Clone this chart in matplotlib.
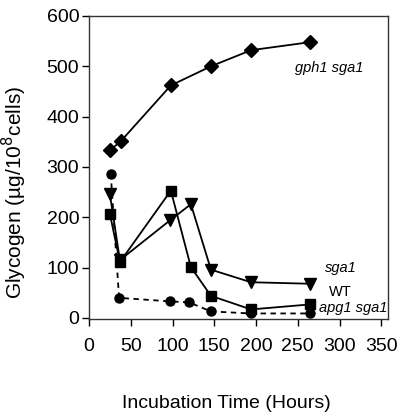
import matplotlib
matplotlib.use("Agg")
import matplotlib.pyplot as plt

plt.rcParams['font.family'] = ['Liberation Sans', 'DejaVu Sans']

t_gph = [25, 38, 98, 146, 194, 265]
gph1_sga1 = [333, 351, 462, 500, 532, 548]

t_wt = [25, 37, 98, 122, 146, 194, 265]
wt = [207, 111, 253, 101, 44, 17, 27]

t_sga = [25, 37, 97, 122, 146, 194, 265]
sga1 = [246, 115, 194, 226, 96, 71, 68]

t_apg = [26, 36, 97, 120, 146, 194, 265]
apg1_sga1 = [287, 40, 33, 31, 13, 9, 9]

xticks = [0, 50, 100, 150, 200, 250, 300, 350]
yticks = [0, 100, 200, 300, 400, 500, 600]

fig = plt.figure(figsize=(4.0, 4.2), dpi=100)
ax = fig.add_axes([0.2225, 0.2405, 0.7475, 0.7215])

ax.plot(t_gph, gph1_sga1, '-', color='black', lw=1.3, marker='D', ms=7, mfc='black', mec='black')
ax.plot(t_wt, wt, '-', color='black', lw=1.3, marker='s', ms=7.5, mfc='black', mec='black')
ax.plot(t_sga, sga1, '-', color='black', lw=1.3, marker='v', ms=8.5, mfc='black', mec='black')
ax.plot(t_apg, apg1_sga1, '--', color='black', lw=1.3, marker='o', ms=6.5, mfc='black', mec='black', dashes=(3, 2.5))

ax.set_xlim(0, 358)
ax.set_ylim(-2, 600)
ax.set_xticks(xticks)
ax.set_yticks(yticks)
ax.tick_params(direction='out', length=5, width=1, labelsize=14)
ax.tick_params(axis='x', pad=9)
ax.tick_params(axis='y', pad=2)
for s in ax.spines.values():
    s.set_linewidth(1.0)
    s.set_color('#333333')

ax.text(287, 496, 'gph1 sga1', style='italic', fontsize=10.5, ha='center', va='center')
ax.text(301, 99, 'sga1', style='italic', fontsize=10.5, ha='center', va='center')
ax.text(301, 51, 'WT', fontsize=10.5, ha='center', va='center')
ax.text(357, 19, 'apg1 sga1', style='italic', fontsize=10.5, ha='right', va='center')

ax.set_ylabel('Glycogen (µg/10$^{8}$cells)', fontsize=15)
ax.yaxis.set_label_coords(-0.202, 0.416)
fig.text(0.567, 0.04, 'Incubation Time (Hours)', fontsize=14, ha='center', va='center')

fig.savefig('out.png', dpi=100)
